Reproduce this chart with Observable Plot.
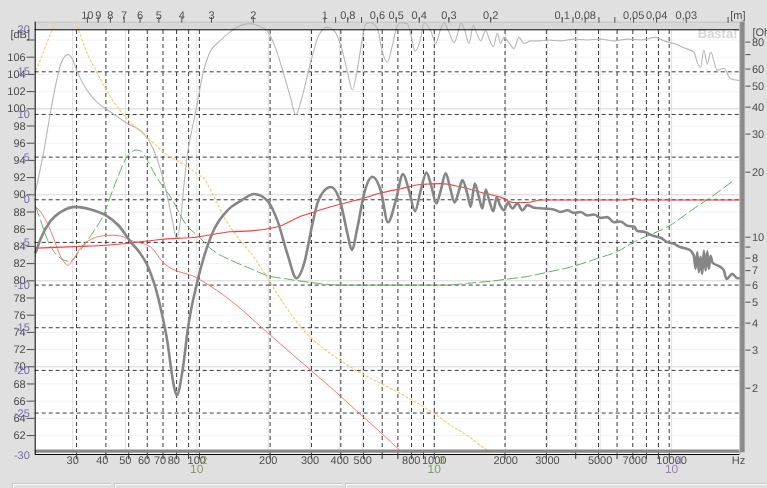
<!DOCTYPE html>
<html><head><meta charset="utf-8">
<script src="https://cdn.jsdelivr.net/npm/d3@7"></script>
<script src="https://cdn.jsdelivr.net/npm/@observablehq/plot@0.6"></script>
<style>
html,body{margin:0;padding:0;background:#e0e0e0;}
#wrap{position:relative;width:767px;height:488px;overflow:hidden;}
#chart{position:absolute;left:0;top:0;will-change:transform;-webkit-font-smoothing:antialiased;}
#chart svg text{text-rendering:geometricPrecision;}
.sb{position:absolute;top:483px;height:6px;border-top:1px solid #c6c6c6;border-left:1px solid #c6c6c6;box-shadow:inset 1px 1px 0 #fff;}
</style></head><body><div id="wrap"><div id="chart"></div>
<div class="sb" style="left:12px;width:98px"></div>
<div class="sb" style="left:114px;width:227px"></div>
<div class="sb" style="left:345px;width:422px"></div>
</div>
<script>
// ---------- data (Hz, dB) ----------
const splHz = [20.1,21.1,23.3,25.7,29.8,34.5,40.0,45.4,51.1,56.3,59.6,62.1,64.2,69.7,73.2,75.6,78.1,80.1,84.8,89.5,98.2,111.8,131.7,150.1,170.9,194.9,214.9,237.1,259.0,279.0,302.9,318.1,328.6,362.4,399.7,426.8,445.2,470.8,502.2,545.3,591.6,635.3,685.0,735.9,780.5,827.9,875.4,925.7,965.4,1021,1065,1118,1166,1221,1274,1317,1383,1429,1486,1550,1602,1655,1710,1784,1843,1904,1980,2059,2150,2257,2371,2490,2656,2930,3222,3451,3686,3931,4198,4483,4782,5106,5453,5818,6212,6633,7076,7317,7805,8610,9193,9815,10471,11182,11940,12332,12738,12950,13168,13380,13600,13830,14050,14290,14528,14750,15006,15290,16550,17091,17550,18560,19487,20000];
const splDb = [83.3,84.9,87.0,88.0,88.6,88.3,87.6,86.4,84.5,83.1,82.0,80.8,79.7,75.8,72.8,70.0,67.6,66.7,69.6,74.6,80.0,85.1,88.2,89.3,90.1,89.3,87.0,83.1,80.3,82.0,86.6,89.0,89.9,90.9,89.0,85.5,83.6,86.2,90.1,92.1,90.5,86.8,89.3,92.4,90.5,88.1,90.5,92.6,91.3,89.0,90.5,92.5,90.9,89.1,90.5,91.7,90.1,88.6,91.3,89.7,88.4,90.6,89.4,88.1,89.7,88.8,88.2,89.1,88.4,89.0,88.2,88.8,88.5,88.4,88.3,88.0,88.2,87.9,88.0,87.6,87.7,87.3,87.4,86.8,86.9,86.4,86.3,85.8,85.7,85.2,85.0,84.5,84.3,83.9,83.7,83.5,82.9,81.4,83.3,81.0,82.8,80.8,83.5,81.2,83.4,81.4,82.9,82.1,81.6,81.2,80.2,80.8,80.3,80.3];

const lightHz = [20.1,21.8,23.3,24.5,25.7,27.5,28.8,29.8,32.3,35.1,38.1,42.0,46.3,49.4,54.5,58.2,63.2,68.5,73.2,76.8,80.1,83.4,86.1,89.0,93.5,98.2,103.1,110.0,121.3,136.0,150.1,162.7,176.7,194.9,211.4,229.3,244.9,257.2,270.2,288.4,302.9,323.1,350.9,374.4,399.7,426.8,448.2,470.8,494.3,510.6,536.3,572.8,601.5,631.5,663.3,696.7,719.5,768.4,807.0,827.9,875.4,904.3,965.4,1014,1065,1100,1155,1213,1274,1295,1347,1405,1467,1515,1576,1655,1710,1784,1856,1917,1980,2079,2183,2293,2408,2572,2837,3029,3451,3931,4483,5106,5818,6633,7557,8754,9494,10471,11550,12738,13168,13600,14050,14528,15006,16024,17091,18249,19803];
const lightDb = [90.5,95.2,99.8,102.9,105.2,106.3,105.8,104.7,102.7,101.3,100.4,99.6,98.8,98.3,97.7,97.1,95.5,92.8,89.7,87.0,84.9,87.4,91.3,94.8,97.9,100.8,103.9,106.4,107.8,109.0,109.7,109.9,109.7,109.0,107.0,103.9,101.2,99.3,100.8,103.9,106.2,108.6,109.5,109.1,107.4,104.3,102.2,104.7,108.2,109.9,110.0,109.3,106.6,105.4,107.4,109.7,110.0,109.9,107.8,106.7,108.2,110.0,109.1,107.6,109.3,110.0,108.9,107.7,109.3,110.0,109.1,107.6,109.7,108.8,107.9,109.1,108.2,107.2,108.8,107.6,108.3,107.7,107.0,108.3,107.6,107.9,107.9,108.0,107.9,108.1,108.0,108.1,107.9,108.1,108.0,108.3,107.9,107.6,107.1,106.6,105.4,104.8,106.8,105.2,106.6,104.5,104.7,103.5,103.3];

const redAHz = [20.1,31.3,38.1,51.1,68.5,98.2,136.0,165.5,222.0,270.2,307.7,362.4,486.2,591.6,719.5,875.4,1065,1295,1576,1917,2177,2490,2837,6600,7076,7500,20000];
const redADb = [83.8,84.0,84.1,84.4,84.8,85.1,85.7,85.8,86.4,87.5,88.0,88.6,89.5,90.2,90.7,91.2,91.3,90.9,90.3,89.7,89.1,89.1,89.4,89.4,89.6,89.4,89.4];

const redBHz = [20.1,21.1,22.6,24.0,25.2,26.5,27.5,29.2,31.3,34.5,38.1,42.0,46.3,51.1,62.1,70.8,98.2,136.0,198.0,297.9,362.4,416.9,497.3,610.9,707.6,731.7,1738];
const redBDb = [88.6,88.0,86.6,84.9,83.3,82.2,81.8,82.6,83.9,84.8,85.2,85.3,85.2,84.7,83.9,82.0,80.3,77.7,73.8,69.6,67.6,66.1,64.2,62.0,60.4,60.1,60.1];

const greenHz = [20.1,21.1,22.6,24.5,25.7,27.5,28.8,30.4,33.4,35.6,39.3,42.7,47.1,48.6,51.1,53.6,56.3,60.1,65.2,68.5,75.6,87.5,101.4,110.0,117.4,136.0,165.5,194.9,237.1,297.9,399.7,719.5,1137,1383,1795,2047,2490,3029,3806,4943,6013,7076,10308,12738,15006,18850];
const greenDb = [88.6,87.0,84.7,83.1,82.6,82.3,82.4,83.2,84.7,85.8,87.8,90.5,93.4,94.2,94.9,95.2,95.1,94.0,92.2,91.3,89.7,86.6,84.9,83.9,83.3,82.4,81.4,80.6,80.2,79.8,79.5,79.5,79.5,79.7,80.0,80.2,80.5,81.0,81.6,82.6,83.4,84.5,86.6,88.4,89.7,91.7];

const yellowHzA = [20.2,21.6,23.3,24.5];
const yellowDbA = [104.5,106.5,108.8,110.1];
const yellowHzB = [29.8,33.4,36.8,42.0,48.6,56.3,63.2,73.2,87.5,98.2,104.7,115.5,127.4,145.3,170.9,201.3,237.1,279.0,318.1,362.4,807.0,997,1174.5,1383,1683,1738,20000];
const yellowDbB = [110.1,106.4,104.1,101.3,99.0,97.3,96.1,94.6,93.4,92.4,91.9,89.7,87.4,85.1,82.7,79.7,76.7,74.2,72.7,71.5,66.1,64.6,63.2,62.0,60.3,60.1,60.1];

// ---------- ticks & labels ----------
const dbTicks = [62,64,66,68,70,72,74,76,78,80,82,84,86,88,90,92,94,96,98,100,102,104,106,108];
const relTicks = [20,15,10,5,0,-5,-10,-15,-20,-25,-30];
const ohmTicks = [80,70,60,50,40,30,20,10,9,8,7,6,5,4,3,2];
const ohmLabelled = [80,60,50,40,30,20,10,8,7,6,5,4,3,2];
const gridHz = [30,40,50,60,70,80,90,100,200,300,400,500,600,700,800,900,1000,2000,3000,4000,5000,6000,7000,8000,9000,10000];
const freqLabels = [30,40,50,60,70,80,100,200,300,400,500,800,1000,2000,3000,5000,7000,10000];
const lightGridHz = [30,50,100,200,300,400,500,1000,2000,3000,4000,5000,10000];
const meterLabels = [10,9,8,7,6,5,4,3,2,1,0.8,0.6,0.5,0.4,0.3,0.2,0.1,0.08,0.05,0.04,0.03];
const meterMinor = [0.9,0.7,0.09,0.07,0.06,0.02];
const decades = [100,1000,10000];
const decadeExp = ["2","3","4"];
const decadeColors = ["#8c9a6a","#7c9c6c","#9a7cc0"];

// ---------- scale helpers ----------
const relToDb = v => 89.42 + 0.992 * v;                 // relative (purple) axis
const ohmToDb = r => 85.07 + 25.12 * Math.log10(r / 10); // impedance axis
const labelGrid = f => 100 * Math.pow(10, (237.5 * Math.log10(f / 100) - 2.6) / 235); // label/grid layer
const SOUND = 346;
const Y_MIN = 59.8, Y_MAX = 110.07, PLOT_TOP = 109.19;

const rows = (hz, db, extra = {}) => hz.map((f, i) => ({f, db: db[i], ...extra}));
const spl = rows(splHz, splDb);
const light = rows(lightHz, lightDb);
const redA = rows(redAHz, redADb);
const redB = rows(redBHz, redBDb);
const green = rows(greenHz, greenDb);
const yellow = [...rows(yellowHzA, yellowDbA, {seg: "a"}), ...rows(yellowHzB, yellowDbB, {seg: "b"})];

const relMap = new Map(relTicks.map(v => [relToDb(v), String(v)]));
const ohmMap = new Map(ohmTicks.map(r => [ohmToDb(r), ohmLabelled.includes(r) ? String(r) : ""]));
const meterTicks = [...meterLabels, ...meterMinor];

const fineDb = d3.range(62, 109, 2);
const tenDb = [70, 80, 90, 100];
const dash = "4,3";
const lineOpts = {x: "f", y: "db", curve: "monotone-x"};
const grey = "#4d4d4d";

const decadeMarks = decades.flatMap((d, i) => [
  Plot.text([d], {x: v => labelGrid(v), frameAnchor: "bottom", dy: 18, text: () => "10", fill: decadeColors[i], fontSize: 12}),
  Plot.text([d], {x: v => labelGrid(v), frameAnchor: "bottom", dy: 9, dx: 7.5, text: () => decadeExp[i], fill: decadeColors[i]})
]);

const chart = Plot.plot({
  width: 767, height: 488,
  marginLeft: 34.7, marginRight: 27.6, marginTop: 21.7, marginBottom: 34,
  style: {background: "transparent", fontFamily: "'Liberation Sans', Arial, sans-serif", fontSize: "11px", color: grey, overflow: "visible"},
  x: {type: "log", domain: [20, 20000]},
  y: {domain: [Y_MIN, Y_MAX]},
  marks: [
    Plot.frame({fill: "white", stroke: "none"}),
    Plot.rect([0], {x1: 20, x2: 20000, y1: PLOT_TOP, y2: Y_MAX, fill: "#d9d9d9"}),
    Plot.ruleY([Y_MAX], {stroke: "#c4c4c4"}),
    Plot.ruleY(fineDb, {stroke: "#f2f2f2"}),
    Plot.ruleY(tenDb, {stroke: "#dcdcdc"}),
    Plot.ruleX(lightGridHz.map(labelGrid), {y1: Y_MIN, y2: PLOT_TOP, stroke: "#e0e0e0"}),
    Plot.ruleX(gridHz, {y1: Y_MIN, y2: PLOT_TOP, stroke: "#3a3a3a", strokeDasharray: dash}),
    Plot.ruleY(relTicks.filter(v => v > -30 && v < 20).map(relToDb), {stroke: "#3a3a3a", strokeDasharray: dash}),
    Plot.text(["Basta!"], {frameAnchor: "top-right", dx: -2.4, dy: 6.3, textAnchor: "end", fontWeight: "bold", fontSize: 13, fill: "#d6d6d6"}),
    // curves
    Plot.line(light, {...lineOpts, stroke: "#b6b6b6", strokeWidth: 1.1}),
    Plot.line(yellow, {...lineOpts, z: "seg", stroke: "#f0cf72", strokeWidth: 1.2, strokeDasharray: "2,2.5"}),
    Plot.line(green, {...lineOpts, stroke: "#5cb35c", strokeWidth: 1, strokeDasharray: "10,4"}),
    Plot.line(redB, {...lineOpts, stroke: "#ff7474", strokeWidth: 1}),
    Plot.line(redA, {...lineOpts, stroke: "#ff3c3c", strokeWidth: 1.1}),
    Plot.line(spl, {...lineOpts, stroke: "#868686", strokeWidth: 2.6}),
    // frame lines
    Plot.ruleY([60.2], {stroke: "#8a8a8a", strokeWidth: 3.2}),
    Plot.ruleY([Y_MIN], {stroke: "#000"}),
    Plot.ruleY([PLOT_TOP], {stroke: "#000"}),
    Plot.ruleX([20], {y1: Y_MIN, y2: Y_MAX, stroke: "#000"}),
    Plot.ruleX([20000], {y1: Y_MIN, y2: Y_MAX, stroke: "#a8a8a8"}),
    Plot.ruleX([20000], {y1: 60.0, y2: Y_MAX, stroke: "#8a8a8a", strokeWidth: 4.5, dx: 2.5}),
    // y axes
    Plot.axisY({anchor: "left", ticks: dbTicks, tickSize: 8, tickPadding: 1.5, tickFormat: d => d === 108 ? "" : String(d), label: null, fill: grey, stroke: grey}),
    Plot.axisY({anchor: "left", ticks: relTicks.map(relToDb), tickSize: 0, tickPadding: 5.4, tickFormat: d => relMap.get(d), label: null, fill: "#7468b0"}),
    Plot.axisY({anchor: "right", ticks: ohmTicks.map(ohmToDb), tickSize: 5, tickPadding: 2, dx: 5, tickFormat: d => ohmMap.get(d), label: null, fill: grey, stroke: grey}),
    // x axes: tick marks
    Plot.axisX({anchor: "bottom", ticks: gridHz, tickSize: 5, tickFormat: () => "", label: null, stroke: "#333"}),
    Plot.axisX({anchor: "top", ticks: meterTicks.map(l => labelGrid(SOUND / l)), tickSize: 5.7, tickFormat: () => "", label: null, stroke: grey}),
    // x axes: labels
    Plot.text(freqLabels, {x: f => labelGrid(f), text: f => String(f), frameAnchor: "bottom", dy: 9.5, fill: "#505050"}),
    Plot.text(meterLabels, {x: l => labelGrid(SOUND / l), text: l => String(l).replace(".", ","), frameAnchor: "top", dy: -11.5, fill: "#505050"}),
    Plot.text(["[dB]"], {frameAnchor: "top-left", dx: -5.2, dy: 7.6, textAnchor: "end", fill: grey}),
    Plot.text(["[Ohm]"], {frameAnchor: "top-right", dx: 12.6, dy: 6, textAnchor: "start", fill: grey}),
    Plot.text(["[m]"], {frameAnchor: "top-right", dx: -2, dy: -11.5, textAnchor: "middle", fill: grey}),
    Plot.text(["Hz"], {frameAnchor: "bottom-right", dx: -1.5, dy: 9.5, textAnchor: "middle", fill: grey}),
    ...decadeMarks
  ]
});
document.getElementById("chart").appendChild(chart);
</script>
</body></html>
